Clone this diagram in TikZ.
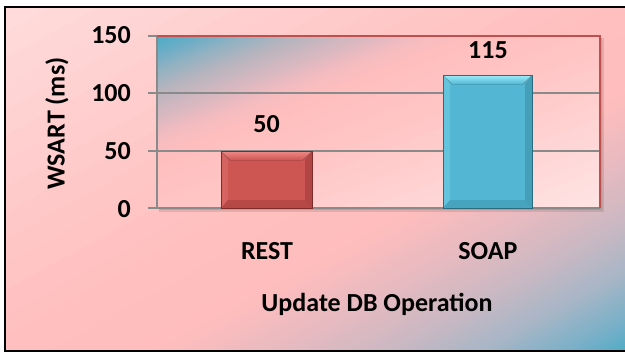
\documentclass[tikz,border=0pt]{standalone}
\usepackage{fontspec}
\setmainfont{Carlito}

% chart colours
\definecolor{bgA}{HTML}{FFDCDC}
\definecolor{bgB}{HTML}{FFC0C0}
\definecolor{bgC}{HTML}{FFBDBD}
\definecolor{bgD}{HTML}{E6BAC0}
\definecolor{bgE}{HTML}{CCB8C2}
\definecolor{bgF}{HTML}{A8B6C6}
\definecolor{bgG}{HTML}{78B0C8}
\definecolor{bgH}{HTML}{4EACC6}
\definecolor{paA}{HTML}{4BACC6}
\definecolor{paB}{HTML}{6AADC6}
\definecolor{paC}{HTML}{90B2C2}
\definecolor{paD}{HTML}{B6B4BE}
\definecolor{paE}{HTML}{DAB8C0}
\definecolor{paF}{HTML}{F4BCC0}
\definecolor{paG}{HTML}{FFBEBE}
\definecolor{paH}{HTML}{FFC6C6}
\definecolor{paI}{HTML}{FFE4E4}
\definecolor{gridc}{HTML}{8A8A8A}
\definecolor{frameRed}{HTML}{C0504D}
\definecolor{restFace}{HTML}{CD5653}
\definecolor{restLight}{HTML}{F08A88}
\definecolor{restDark}{HTML}{9A3A38}
\definecolor{restEdge}{HTML}{7E2C2A}
\definecolor{soapFace}{HTML}{53B7D4}
\definecolor{soapLight}{HTML}{9AEEFA}
\definecolor{soapDark}{HTML}{3A8DA4}
\definecolor{soapEdge}{HTML}{2A6C7E}

% diagonal gradient fill of a rectangle, built from strips parallel to
% the rectangle's rising diagonal: x0, y0, width, height, stop list
% (each stop entry is  p_start/p_end/colour_start/colour_end)
\newcommand\diagfill[5]{%
  \begin{scope}
    \clip (#1,#2) rectangle ({#1+#3},{#2+#4});
    \foreach \pa/\pb/\ca/\cb in {#5} {
      \foreach \k in {0,...,11} {
        \pgfmathsetmacro\sa{2*(\pa+(\pb-\pa)*\k/12)}
        \pgfmathsetmacro\sb{2*(\pa+(\pb-\pa)*(\k+1)/12)+0.006}
        \pgfmathsetmacro\mixp{100-(\k+0.5)*100/12}
        \fill[\ca!\mixp!\cb]
          ({#1+\sa*#3},#2) -- ({#1+\sb*#3},#2) --
          (#1,{#2+\sb*#4}) -- (#1,{#2+\sa*#4}) -- cycle;
      }
    }
  \end{scope}
}

% bevelled bar: x1,y1 (top-left), x2,y2 (bottom-right), colour prefix
\newcommand\chartbar[5]{%
  \fill[#5Face] (#1,#2) rectangle (#3,#4);
  \fill[top color=#5Light, bottom color=#5Face]
    (#1,#2) -- (#3,#2) -- ({#3-9},{#2+9}) -- ({#1+9},{#2+9}) -- cycle;
  \fill[#5Light, opacity=0.25]
    (#1,#2) -- ({#1+7},{#2+9}) -- ({#1+7},{#4-8}) -- (#1,#4) -- cycle;
  \fill[#5Dark, opacity=0.55]
    (#3,#2) -- ({#3-7},{#2+9}) -- ({#3-7},{#4-8}) -- (#3,#4) -- cycle;
  \fill[#5Dark, opacity=0.45]
    (#1,#4) -- ({#1+7},{#4-8}) -- ({#3-7},{#4-8}) -- (#3,#4) -- cycle;
  \draw[#5Edge, line width=0.8pt] (#1,#2) rectangle (#3,#4);
}

\begin{document}
\begin{tikzpicture}[x=1pt, y=-1pt,
  lbl/.style={font=\fontsize{26}{30}\selectfont\bfseries, inner sep=0pt, anchor=base},
  ticklbl/.style={lbl, anchor=base east},
  gridline/.style={gridc, line width=1.5pt},
  axisline/.style={gridc, line width=2pt},
  borderline/.style={frameRed, line width=2pt}]
\useasboundingbox (0,0) rectangle (625,354);
\fill[white] (0,0) rectangle (625,354);

% chart area
\diagfill{5}{7}{627}{344}{0/0.45/bgA/bgB, 0.45/0.62/bgB/bgC, 0.62/0.72/bgC/bgD,
  0.72/0.80/bgD/bgE, 0.80/0.88/bgE/bgF, 0.88/0.95/bgF/bgG, 0.95/1/bgG/bgH}
\draw[black, line width=2pt] (5,7) rectangle (632,351);

% plot area with soft shadow
\fill[black, opacity=0.10] (159,38) rectangle (604,212);
\fill[black, opacity=0.10] (159,38) rectangle (602,210);
\diagfill{157}{36}{443}{172}{0/0.05/paA/paB, 0.05/0.10/paB/paC, 0.10/0.16/paC/paD,
  0.16/0.24/paD/paE, 0.24/0.30/paE/paF, 0.30/0.36/paF/paG, 0.36/0.55/paG/paH,
  0.55/1/paH/paI}

% gridlines and ticks
\draw[gridline] (148,93) -- (600,93);
\draw[gridline] (148,151) -- (600,151);
\draw[gridline] (148,36) -- (157,36);
\draw[axisline] (148,208) -- (600,208);
\draw[axisline] (157,36) -- (157,208);
\draw[borderline] (157,36) -- (600,36) -- (600,208);

% bars
\chartbar{221}{151}{312}{208}{rest}
\chartbar{443}{75}{532}{208}{soap}

% axis tick labels
\node[ticklbl] (t150) at (131,43) {150};
\node[ticklbl] (t100) at (131,101) {100};
\node[ticklbl] (t50)  at (131,159) {50};
\node[ticklbl] (t0)   at (131,217) {0};

% value labels
\node[lbl] (v1) at (266.5,132.5) {50};
\node[lbl] (v2) at (488,58.5) {115};

% category labels
\node[lbl] (c1) at (267,259.5) {REST};
\node[lbl] (c2) at (488,259.5) {SOAP};

% axis titles
\node[lbl] (xt) at (377,311.5) {Update DB Operation};
\node[lbl, rotate=90] (yt) at (64.5,123.5) {WSART (ms)};
\end{tikzpicture}
\end{document}
